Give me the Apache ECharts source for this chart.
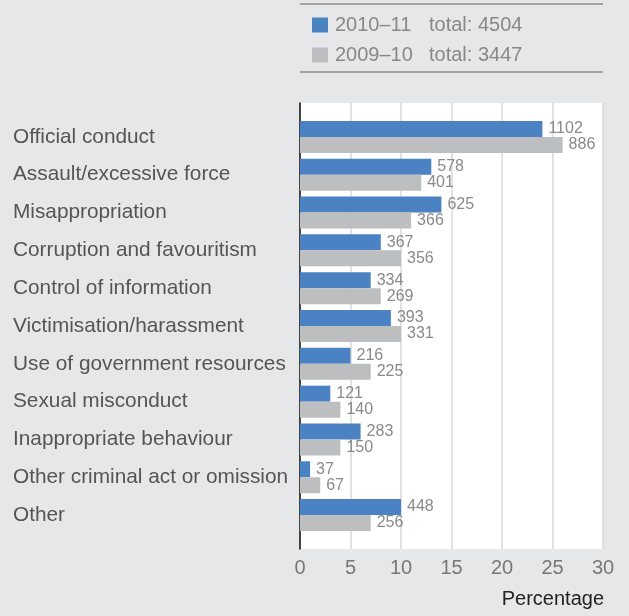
<!DOCTYPE html>
<html>
<head>
<meta charset="utf-8">
<script src="https://cdn.jsdelivr.net/npm/echarts@6/dist/echarts.min.js"></script>
<style>
  html, body { margin: 0; padding: 0; background: #e6e7e9; }
  #chart { width: 629px; height: 616px; }
</style>
</head>
<body>
<div id="chart"></div>
<script>
// Complaint categories, top to bottom
const categories = [
  'Official conduct',
  'Assault/excessive force',
  'Misappropriation',
  'Corruption and favouritism',
  'Control of information',
  'Victimisation/harassment',
  'Use of government resources',
  'Sexual misconduct',
  'Inappropriate behaviour',
  'Other criminal act or omission',
  'Other'
];

// Number of allegations in each category
const counts2011 = [1102, 578, 625, 367, 334, 393, 216, 121, 283, 37, 448];
const counts2010 = [886, 401, 366, 356, 269, 331, 225, 140, 150, 67, 256];

// Share of the year's total, rounded to whole percent
const pct2011 = [24, 13, 14, 8, 7, 9, 5, 3, 6, 1, 10];
const pct2010 = [26, 12, 11, 10, 8, 10, 7, 4, 4, 2, 7];

const seriesNames = ['2010–11', '2009–10'];
const seriesTotals = [4504, 3447];

const xTicks = [0, 5, 10, 15, 20, 25, 30];
const xAxisTitle = 'Percentage';

const FONT = '"Liberation Sans", Arial, sans-serif';
const BLUE = '#4b82c4';
const GREY = '#bdbec0';

const chart = echarts.init(document.getElementById('chart'), null, { renderer: 'canvas' });

const plotLeft = 300, plotTop = 103, plotWidth = 303, plotHeight = 446;
const barTop = 118, barHeight = 416;

const totalsByName = {};
seriesNames.forEach((n, i) => { totalsByName[n] = seriesTotals[i]; });

chart.setOption({
  backgroundColor: '#e6e7e9',
  animation: false,
  textStyle: { fontFamily: FONT },
  title: {
    text: xAxisTitle,
    right: 25,
    top: 589,
    padding: 0,
    textStyle: { fontFamily: FONT, fontSize: 20, fontWeight: 'normal', color: '#222' }
  },
  legend: {
    orient: 'vertical',
    left: 312,
    top: 15,
    itemWidth: 16,
    itemHeight: 15,
    itemGap: 10,
    icon: 'rect',
    padding: 0,
    data: seriesNames,
    formatter: name => '{y|' + name + '}{t|total: ' + totalsByName[name] + '}',
    textStyle: {
      fontFamily: FONT,
      color: '#888',
      rich: {
        y: { fontSize: 20, color: '#888', width: 94, lineHeight: 15, padding: [0, 0, 0, 2] },
        t: { fontSize: 20, color: '#888', lineHeight: 15 }
      }
    }
  },
  graphic: [
    { type: 'line', shape: { x1: 300, y1: 4, x2: 603, y2: 4 }, style: { stroke: '#a3a3a3', lineWidth: 2 } },
    { type: 'line', shape: { x1: 300, y1: 72, x2: 603, y2: 72 }, style: { stroke: '#a3a3a3', lineWidth: 2 } }
  ],
  grid: [
    { left: plotLeft, top: plotTop, width: plotWidth, height: plotHeight,
      show: true, backgroundColor: '#fff', borderWidth: 0 },
    { left: plotLeft, top: barTop, width: plotWidth, height: barHeight }
  ],
  xAxis: [
    {
      gridIndex: 0, type: 'value',
      min: xTicks[0], max: xTicks[xTicks.length - 1], interval: xTicks[1] - xTicks[0],
      axisLine: { show: false }, axisTick: { show: false },
      splitLine: { show: true, lineStyle: { color: '#d9d9d9', width: 1.5 } },
      axisLabel: { fontFamily: FONT, fontSize: 20, color: '#777', margin: 9 }
    },
    {
      gridIndex: 1, type: 'value',
      min: xTicks[0], max: xTicks[xTicks.length - 1],
      show: false
    }
  ],
  yAxis: [
    {
      gridIndex: 0, type: 'value', min: 0, max: 1,
      axisLine: { show: true, onZero: false, lineStyle: { color: '#111', width: 1.5 } },
      axisTick: { show: false }, axisLabel: { show: false }, splitLine: { show: false }
    },
    {
      gridIndex: 1, type: 'category', data: categories, inverse: true,
      axisLine: { show: false }, axisTick: { show: false },
      axisLabel: { fontFamily: FONT, fontSize: 20.8, color: '#555', align: 'left', margin: 287 }
    }
  ],
  series: [
    {
      name: seriesNames[0], type: 'bar', xAxisIndex: 1, yAxisIndex: 1,
      data: pct2011, barWidth: 16, barGap: '0%',
      itemStyle: { color: BLUE },
      label: {
        show: true, position: 'right', distance: 6,
        fontFamily: FONT, fontSize: 16, color: '#8a8a8a',
        formatter: p => counts2011[p.dataIndex]
      }
    },
    {
      name: seriesNames[1], type: 'bar', xAxisIndex: 1, yAxisIndex: 1,
      data: pct2010, barWidth: 16, barGap: '0%',
      itemStyle: { color: GREY },
      label: {
        show: true, position: 'right', distance: 6,
        fontFamily: FONT, fontSize: 16, color: '#8a8a8a',
        formatter: p => counts2010[p.dataIndex]
      }
    }
  ]
});
</script>
</body>
</html>
